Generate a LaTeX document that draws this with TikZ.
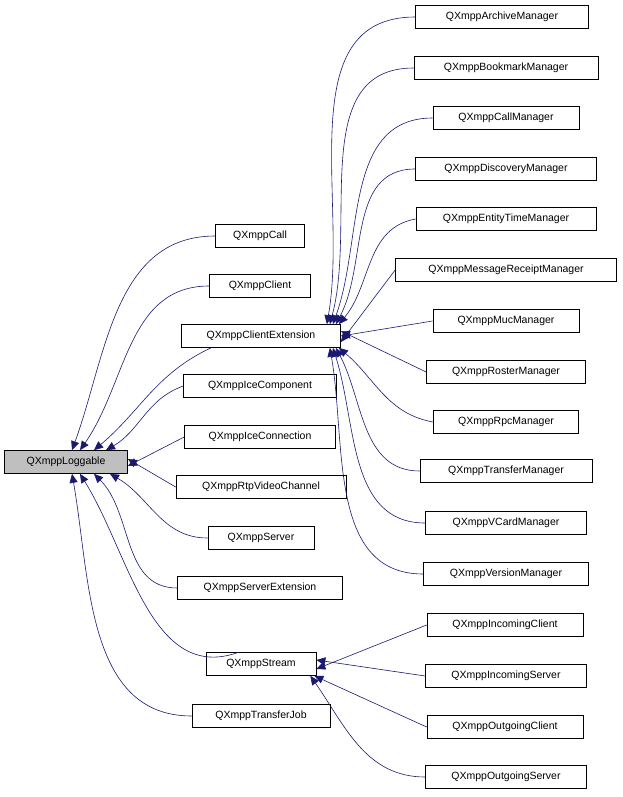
\documentclass[tikz,border=0pt]{standalone}
\usepackage{fontspec}
\setmainfont{Liberation Sans}
\usetikzlibrary{arrows.meta}
\definecolor{edgec}{RGB}{25,25,112}
\begin{document}
\begin{tikzpicture}[x=1pt,y=-1pt,
  box/.style={draw=black,fill=white,minimum height=23pt,inner sep=0pt,font=\fontsize{10.5}{12}\selectfont,line width=0.7pt},
  e/.style={draw=edgec,line width=0.6pt,-{Triangle[length=9pt,width=8pt,fill=edgec]}}]
\useasboundingbox (0,0) rectangle (623,797);
\node[box,fill={rgb,255:red,191;green,191;blue,191},minimum width=123pt] (L) at (66,462) {QXmppLoggable};
\node[box,minimum width=89pt] (call) at (260,236) {QXmppCall};
\node[box,minimum width=101pt] (client) at (260,286) {QXmppClient};
\node[box,minimum width=159pt] (cext) at (261,336) {QXmppClientExtension};
\node[box,minimum width=153pt] (icecomp) at (260,386) {QXmppIceComponent};
\node[box,minimum width=151pt] (iceconn) at (260,437) {QXmppIceConnection};
\node[box,minimum width=170pt] (rtp) at (261,487) {QXmppRtpVideoChannel};
\node[box,minimum width=106pt] (server) at (261,538) {QXmppServer};
\node[box,minimum width=165pt] (sext) at (260,588) {QXmppServerExtension};
\node[box,minimum width=110pt] (stream) at (261,664) {QXmppStream};
\node[box,minimum width=138pt] (tjob) at (261,716) {QXmppTransferJob};
\node[box,minimum width=173pt] (arch) at (502,17) {QXmppArchiveManager};
\node[box,minimum width=184pt] (book) at (506,68) {QXmppBookmarkManager};
\node[box,minimum width=146pt] (callm) at (506,118) {QXmppCallManager};
\node[box,minimum width=181pt] (disc) at (506,169) {QXmppDiscoveryManager};
\node[box,minimum width=180pt] (ent) at (506,219) {QXmppEntityTimeManager};
\node[box,minimum width=221pt] (msg) at (506,270) {QXmppMessageReceiptManager};
\node[box,minimum width=146pt] (muc) at (506,321) {QXmppMucManager};
\node[box,minimum width=159pt] (rost) at (506,372) {QXmppRosterManager};
\node[box,minimum width=145pt] (rpc) at (506,422) {QXmppRpcManager};
\node[box,minimum width=172pt] (trm) at (506,471) {QXmppTransferManager};
\node[box,minimum width=161pt] (vc) at (506,523) {QXmppVCardManager};
\node[box,minimum width=165pt] (ver) at (506,574) {QXmppVersionManager};
\node[box,minimum width=156pt] (ic) at (505,625) {QXmppIncomingClient};
\node[box,minimum width=161pt] (is) at (506,676) {QXmppIncomingServer};
\node[box,minimum width=156pt] (oc) at (505,727) {QXmppOutgoingClient};
\node[box,minimum width=161pt] (os) at (506,777) {QXmppOutgoingServer};
% to Loggable
\draw[e] (call.west) to[out=180,in=70] ([xshift=6]L.north);
\draw[e] (client.west) to[out=180,in=55] ([xshift=14]L.north);
\draw[e] ([xshift=-50]cext.south) to[out=205,in=40] ([xshift=28]L.north);
\draw[e] (icecomp.west) to[out=200,in=30] ([xshift=40]L.north);
\draw[e] (iceconn.west) -- ([yshift=-4]L.east);
\draw[e] (rtp.west) -- ([yshift=3]L.east);
\draw[e] (server.west) to[out=180,in=-30] ([xshift=44]L.south);
\draw[e] (sext.west) to[out=180,in=-45] ([xshift=28]L.south);
\draw[e] ([xshift=-22]stream.north) to[out=200,in=-58] ([xshift=14]L.south);
\draw[e] (tjob.west) to[out=180,in=-80] ([xshift=6]L.south);
% to ClientExtension
\draw[e] (arch.west) to[out=180,in=80] ([xshift=-14]cext.north east);
\draw[e] (book.west) to[out=180,in=75] ([xshift=-11]cext.north east);
\draw[e] (callm.west) to[out=180,in=70] ([xshift=-8]cext.north east);
\draw[e] (disc.west) to[out=180,in=62] ([xshift=-5]cext.north east);
\draw[e] (ent.west) to[out=190,in=50] ([xshift=-2]cext.north east);
\draw[e] (msg.west) -- ([yshift=-6]cext.east);
\draw[e] (muc.west) -- (cext.east);
\draw[e] (rost.west) -- ([yshift=5]cext.east);
\draw[e] (rpc.west) to[out=170,in=-40] ([xshift=-2]cext.south east);
\draw[e] (trm.west) to[out=180,in=-62] ([xshift=-5]cext.south east);
\draw[e] (vc.west) to[out=180,in=-72] ([xshift=-8]cext.south east);
\draw[e] (ver.west) to[out=180,in=-80] ([xshift=-11]cext.south east);
% to Stream
\draw[e] (ic.west) -- ([yshift=-5]stream.east);
\draw[e] (is.west) -- ([yshift=4]stream.east);
\draw[e] (oc.west) -- ([xshift=-2]stream.south east);
\draw[e] (os.west) to[out=180,in=-55] ([xshift=-6]stream.south east);
\end{tikzpicture}
\end{document}
